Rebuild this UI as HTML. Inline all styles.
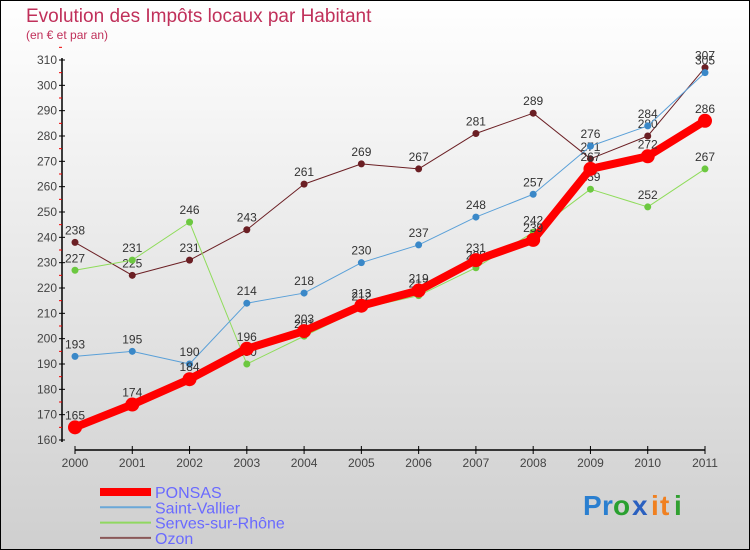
<!DOCTYPE html>
<html><head><meta charset="utf-8"><style>
body{margin:0;width:750px;height:550px;overflow:hidden}
svg{display:block}
text{font-family:"Liberation Sans",sans-serif}
</style></head><body>
<svg width="750" height="550">
<defs><linearGradient id="bg" x1="0" y1="0" x2="0" y2="1"><stop offset="0" stop-color="#ffffff"/><stop offset="1" stop-color="#cfcfcf"/></linearGradient></defs>
<rect x="0.5" y="0.5" width="749" height="549" fill="url(#bg)" stroke="#000"/>
<text x="26" y="22" font-size="19" fill="#c0305a">Evolution des Impôts locaux par Habitant</text>
<text x="26" y="39" font-size="12" fill="#c0305a">(en € et par an)</text>
<g id="axes"></g>
<g id="series"></g>
<g id="legend"></g>
<g font-size="28" font-weight="bold">
<text x="583" y="515" fill="#2a7fd0">P</text><text x="602" y="515" fill="#2a7fd0">r</text><text x="613" y="515" fill="#2aa030">o</text><text x="632" y="515" fill="#2a60c0">x</text><text x="651" y="515" fill="#f08020">i</text><text x="660" y="515" fill="#f08020">t</text><text x="674" y="515" fill="#30a030">i</text>
</g>
</svg>
<script>
const years=["2000","2001","2002","2003","2004","2005","2006","2007","2008","2009","2010","2011"];
const ponsas=[165,174,184,196,203,213,219,231,239,267,272,286];
const saintVallier=[193,195,190,214,218,230,237,248,257,276,284,305];
const serves=[227,231,246,190,201,212,217,228,242,259,252,267];
const ozon=[238,225,231,243,261,269,267,281,289,271,280,307];
const yTicks=[160,170,180,190,200,210,220,230,240,250,260,270,280,290,300,310];
const NS="http://www.w3.org/2000/svg";
const x=i=>75+i*(630/11);
const y=v=>440-(v-160)*(380/150);
function mk(tag,attrs,parent){const e=document.createElementNS(NS,tag);for(const k in attrs)e.setAttribute(k,attrs[k]);parent.appendChild(e);return e;}
const axes=document.getElementById('axes');
let ya=mk('line',{x1:62,y1:58,x2:62,y2:442,stroke:'#000','stroke-width':1.5},axes);


yTicks.forEach(v=>{
 const l=mk('line',{x1:59,y1:y(v),x2:65,y2:y(v),stroke:'#000'},axes);
 
 
 const r=mk('line',{x1:59,y1:y(v+5),x2:62,y2:y(v+5),stroke:'#e00'},axes);
 
 
 const t=mk('text',{x:57,y:y(v)+4,'text-anchor':'end','font-size':12,fill:'#444'},axes);
 t.textContent=v;
 
 
});
let xa=mk('line',{x1:75,y1:450,x2:705,y2:450,stroke:'#000','stroke-width':1.5},axes);


years.forEach((yr,i)=>{
 const l=mk('line',{x1:x(i),y1:446,x2:x(i),y2:454,stroke:'#000'},axes);
 
 
 const t=mk('text',{x:x(i),y:467,'text-anchor':'middle','font-size':12,fill:'#444'},axes);
 t.textContent=yr;
 
 
});
const series=[
 {name:'Ozon',data:ozon,color:'#6b1f24',w:1,r:3.5},
 {name:'Serves-sur-Rhône',data:serves,color:'#8fdc5a',w:1,r:3.5,fill:'#6cc840'},
 {name:'Saint-Vallier',data:saintVallier,color:'#5aa0d8',w:1,r:3.5,fill:'#3a88c8'},
 {name:'PONSAS',data:ponsas,color:'#ff0000',w:8,r:7}
];
const sg=document.getElementById('series');
series.forEach(s=>{
 const g=mk('g',{},sg);
 
 
 const p=mk('polyline',{points:s.data.map((v,i)=>x(i)+','+y(v)).join(' '),fill:'none',stroke:s.color,'stroke-width':s.w,'stroke-linejoin':'round'},g);
 
 
 s.data.forEach((v,i)=>{
  const c=mk('circle',{cx:x(i),cy:y(v),r:s.r,fill:s.fill||s.color},g);
  
  
  const t=mk('text',{x:x(i),y:y(v)-8,'text-anchor':'middle','font-size':12,fill:'#333'},g);
  t.textContent=v;
  
  
 });
});
const lg=document.getElementById('legend');
const legendItems=[['PONSAS','#ff0000',8],['Saint-Vallier','#6aa8d8',2],['Serves-sur-Rhône','#90d860',2],['Ozon','#8a5858',2]];
legendItems.forEach((it,k)=>{
 const yy=492+k*15.3;
 const g=mk('g',{},lg);
 
 
 const l=mk('line',{x1:100,y1:yy,x2:151,y2:yy,stroke:it[1],'stroke-width':it[2]},g);
 
 
 const t=mk('text',{x:155,y:yy+6,'font-size':16,fill:'#6a6aff'},g);
 t.textContent=it[0];
 
 
});
</script>
</body></html>
